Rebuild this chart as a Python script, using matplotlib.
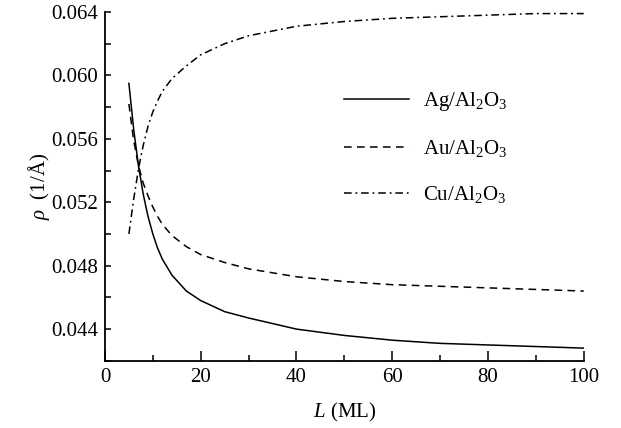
import numpy as np
import matplotlib.pyplot as plt
from matplotlib.ticker import MultipleLocator

plt.rcParams['font.family'] = 'Liberation Serif'
plt.rcParams['mathtext.fontset'] = 'custom'
plt.rcParams['mathtext.rm'] = 'Liberation Serif'
plt.rcParams['mathtext.it'] = 'Liberation Serif:italic'

# film thickness (monolayers) and rho values
L = [5, 6, 7, 8, 9, 10, 11, 12, 14, 17, 20, 25, 30, 40, 50, 60, 70, 80, 90, 100]
ag = [0.0595, 0.0566, 0.0543, 0.0525, 0.0511, 0.0500, 0.0491, 0.0484, 0.0474, 0.0464,
      0.0458, 0.0451, 0.0447, 0.0440, 0.0436, 0.0433, 0.0431, 0.0430, 0.0429, 0.0428]
au = [0.0582, 0.0559, 0.0543, 0.0532, 0.0524, 0.0517, 0.0511, 0.0506, 0.0499, 0.0492,
      0.0487, 0.0482, 0.0478, 0.0473, 0.0470, 0.0468, 0.0467, 0.0466, 0.0465, 0.0464]
cu = [0.0500, 0.0522, 0.0541, 0.0556, 0.0568, 0.0577, 0.0584, 0.0590, 0.0598, 0.0606,
      0.0613, 0.0620, 0.0625, 0.0631, 0.0634, 0.0636, 0.0637, 0.0638, 0.0639, 0.0639]

fig = plt.figure(figsize=(6.21, 4.28), dpi=100)
ax = fig.add_axes([0.169, 0.157, 0.771, 0.815])

ax.plot(L, ag, color='black', lw=1.1, label='Ag/Al$_2$O$_3$')
ax.plot(L, au, color='black', lw=1.1, dashes=(5, 3.5), label='Au/Al$_2$O$_3$')
ax.plot(L, cu, color='black', lw=1.1, dashes=(5, 2.5, 1.2, 2.5), label='Cu/Al$_2$O$_3$')

ax.set_xlim(0, 100)
ax.set_ylim(0.042, 0.064)
ax.xaxis.set_major_locator(MultipleLocator(20))
ax.xaxis.set_minor_locator(MultipleLocator(10))
ax.yaxis.set_major_locator(MultipleLocator(0.004))
ax.yaxis.set_minor_locator(MultipleLocator(0.002))
ax.yaxis.set_major_formatter(plt.FormatStrFormatter('%.3f'))

ax.spines['top'].set_visible(False)
ax.spines['right'].set_visible(False)
ax.spines['left'].set_linewidth(1.3)
ax.spines['bottom'].set_linewidth(1.3)
ax.tick_params(axis='both', which='both', direction='in', width=1.1, labelsize=15)
ax.tick_params(axis='x', which='major', length=7, pad=5)
ax.tick_params(axis='x', which='minor', length=4)
ax.tick_params(axis='y', which='both', length=4, pad=5)

ax.set_xlabel('$L$ (ML)', fontsize=15, labelpad=10)
ax.set_ylabel(r'$\rho$  (1/Å)', fontsize=15, labelpad=-1)

ax.legend(loc='upper left', bbox_to_anchor=(0.461, 0.83), frameon=False, fontsize=15,
          handlelength=3.1, handletextpad=0.65, labelspacing=1.2)

fig.savefig('out.png', dpi=100)
